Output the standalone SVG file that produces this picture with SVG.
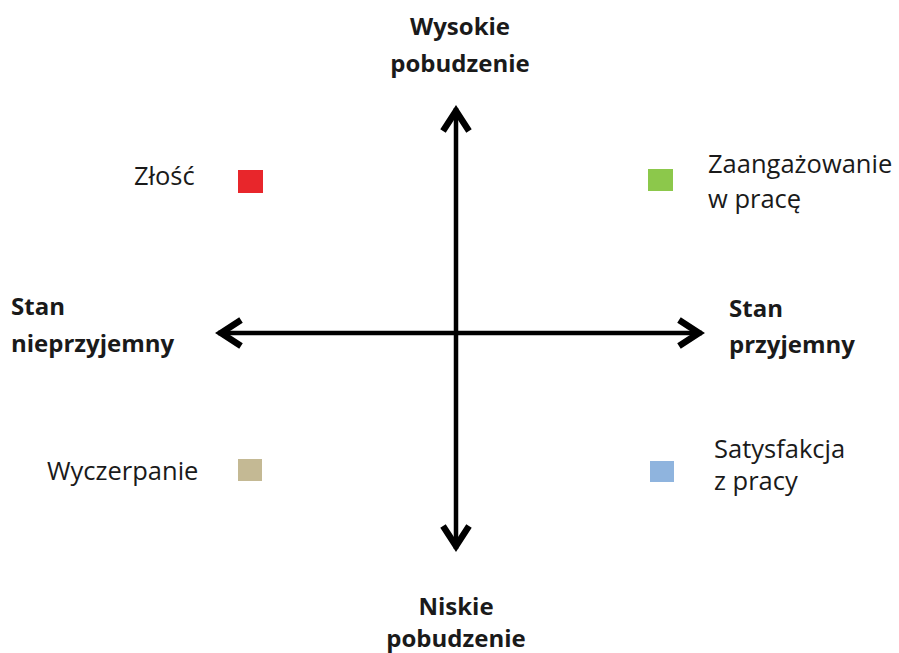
<svg xmlns="http://www.w3.org/2000/svg" width="899" height="653" viewBox="0 0 899 653">
<style>
.t{font-family:"Open Sans","Liberation Sans",sans-serif;font-size:25.5px;fill:#1a1a1a}
.b{font-weight:bold;font-size:24px}
.c{text-anchor:middle}
.ax{stroke:#000;stroke-width:4.5;fill:none}
</style>
<defs>
<marker id="ah" markerUnits="userSpaceOnUse" markerWidth="34" markerHeight="34" viewBox="-26 -17 32 34" refX="3" refY="0" orient="auto-start-reverse">
<path d="M -20 -13 L 0 0 L -20 13" fill="none" stroke="#000" stroke-width="6.5" stroke-linejoin="miter"/>
</marker>
</defs>
<rect width="899" height="653" fill="#fff"/>
<g id="connectors">
<line class="ax" x1="456" y1="108" x2="456" y2="549" marker-start="url(#ah)" marker-end="url(#ah)"/>
<line class="ax" x1="218" y1="333" x2="702" y2="333" marker-start="url(#ah)" marker-end="url(#ah)"/>
</g>
<g id="high"><text class="t b c" x="460" y="35">Wysokie</text><text class="t b c" x="460" y="72">pobudzenie</text></g>
<g id="low"><text class="t b c" x="456" y="615">Niskie</text><text class="t b c" x="456" y="647">pobudzenie</text></g>
<g id="unpleasant"><text class="t b" x="11" y="315">Stan</text><text class="t b" x="11" y="352">nieprzyjemny</text></g>
<g id="pleasant"><text class="t b" x="729" y="317">Stan</text><text class="t b" x="729" y="353">przyjemny</text></g>
<g id="zlosc"><text class="t" x="134" y="185">Złość</text><rect x="238" y="170" width="25" height="23" fill="#e8262b"/></g>
<g id="zaangazowanie"><rect x="648" y="169" width="25" height="22" fill="#8cc84b"/><text class="t" x="708" y="173">Zaangażowanie</text><text class="t" x="708" y="208">w pracę</text></g>
<g id="wyczerpanie"><text class="t" x="47" y="480">Wyczerpanie</text><rect x="238" y="459" width="24" height="22" fill="#c4b994"/></g>
<g id="satysfakcja"><rect x="650" y="461" width="24" height="21" fill="#8fb4de"/><text class="t" x="714" y="458">Satysfakcja</text><text class="t" x="714" y="490">z pracy</text></g>
</svg>
